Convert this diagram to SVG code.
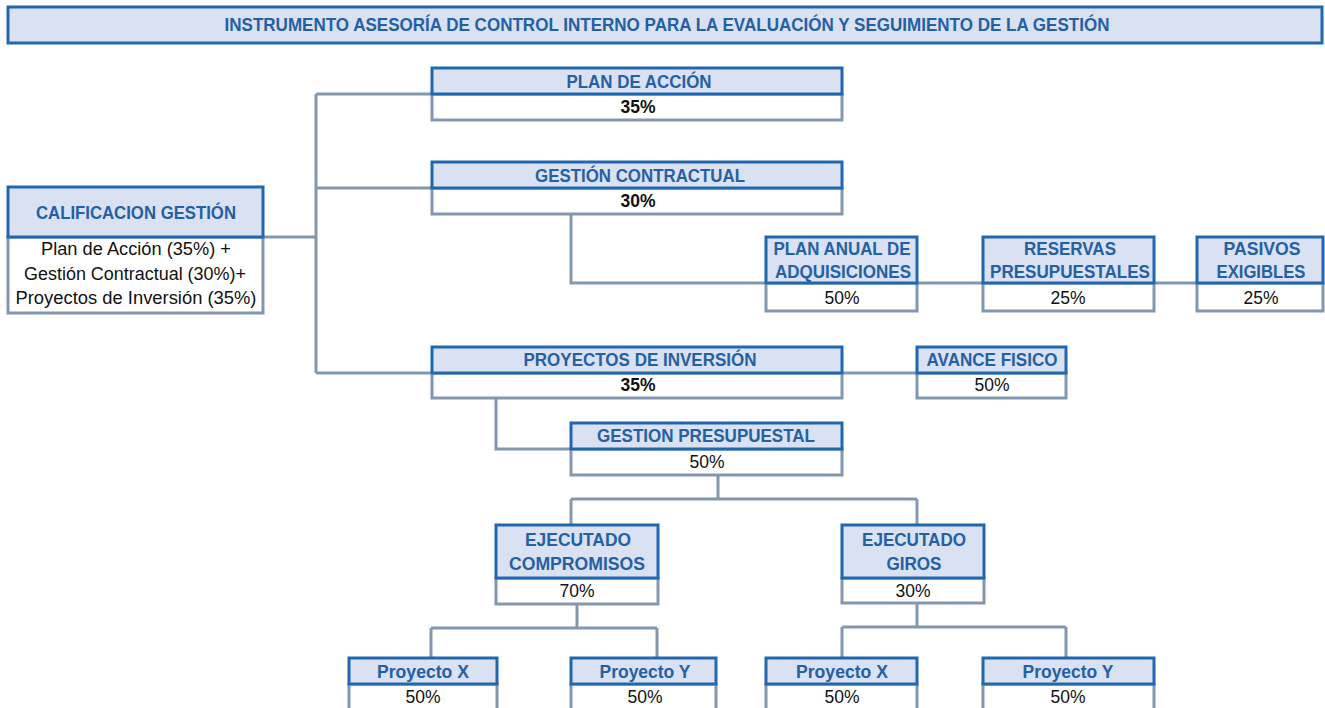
<svg xmlns="http://www.w3.org/2000/svg" width="1325" height="708" viewBox="0 0 1325 708">
<style>
.hdr{fill:#D9E1F2;stroke:#1F68B0;stroke-width:3}
.val{fill:#FFFFFF;stroke:#8497B0;stroke-width:3}
.ln{fill:none;stroke:#8497B0;stroke-width:3}
.lab{font-family:"Liberation Sans",Arial,sans-serif;font-weight:bold;font-size:18.5px;fill:#2460A4;text-anchor:middle}
.ttl{font-size:19px}
.num{font-family:"Liberation Sans",Arial,sans-serif;font-size:17.5px;fill:#111111;text-anchor:middle}
.numb{font-family:"Liberation Sans",Arial,sans-serif;font-size:17.5px;font-weight:bold;fill:#111111;text-anchor:middle}
</style>
<rect width="1325" height="708" fill="#FFFFFF"/>
<g id="title">
<rect class="hdr" x="8" y="7" width="1314" height="36"/>
<text class="lab ttl" x="667" y="31" textLength="885" lengthAdjust="spacingAndGlyphs">INSTRUMENTO ASESORÍA DE CONTROL INTERNO PARA LA EVALUACIÓN Y SEGUIMIENTO DE LA GESTIÓN</text>
</g>
<g id="connectors">
<path class="ln" d="M263 237 H316 M316 94 V373 M316 94 H432 M316 188 H432 M316 373 H432"/>
<path class="ln" d="M571 214 V283 H1197"/>
<path class="ln" d="M842 373 H917"/>
<path class="ln" d="M496 398 V449 H571"/>
<path class="ln" d="M718 475 V499 M571 499 H917 M571 499 V525 M917 499 V525"/>
<path class="ln" d="M577 604 V628 M431 628 H657 M431 628 V658 M657 628 V658"/>
<path class="ln" d="M917 603 V627 M842 627 H1066 M842 627 V658 M1066 627 V658"/>
</g>
<g id="calificacion">
<rect class="val" x="8" y="237" width="255" height="76"/>
<rect class="hdr" x="8" y="187" width="255" height="50"/>
<text class="lab" x="136" y="219" textLength="200" lengthAdjust="spacingAndGlyphs">CALIFICACION GESTIÓN</text>
<text class="num" x="136" y="255" textLength="190" lengthAdjust="spacingAndGlyphs">Plan de Acción (35%) +</text>
<text class="num" x="135" y="280" textLength="222" lengthAdjust="spacingAndGlyphs">Gestión Contractual (30%)+</text>
<text class="num" x="136" y="304" textLength="241" lengthAdjust="spacingAndGlyphs">Proyectos de Inversión (35%)</text>
</g>
<g id="plan-accion">
<rect class="val" x="432" y="94" width="410" height="26"/>
<rect class="hdr" x="432" y="68" width="410" height="26"/>
<text class="lab" x="639" y="88" textLength="145" lengthAdjust="spacingAndGlyphs">PLAN DE ACCIÓN</text>
<text class="numb" x="638" y="113">35%</text>
</g>
<g id="gestion-contractual">
<rect class="val" x="432" y="188" width="410" height="26"/>
<rect class="hdr" x="432" y="162" width="410" height="26"/>
<text class="lab" x="640" y="182" textLength="210" lengthAdjust="spacingAndGlyphs">GESTIÓN CONTRACTUAL</text>
<text class="numb" x="638" y="207">30%</text>
</g>
<g id="plan-anual">
<rect class="val" x="766" y="283" width="151" height="28"/>
<rect class="hdr" x="766" y="237" width="151" height="46"/>
<text class="lab" x="842" y="255" textLength="137" lengthAdjust="spacingAndGlyphs">PLAN ANUAL DE</text>
<text class="lab" x="843" y="278" textLength="136" lengthAdjust="spacingAndGlyphs">ADQUISICIONES</text>
<text class="num" x="842" y="304">50%</text>
</g>
<g id="reservas">
<rect class="val" x="983" y="283" width="171" height="28"/>
<rect class="hdr" x="983" y="237" width="171" height="46"/>
<text class="lab" x="1070" y="255" textLength="92" lengthAdjust="spacingAndGlyphs">RESERVAS</text>
<text class="lab" x="1070" y="278" textLength="160" lengthAdjust="spacingAndGlyphs">PRESUPUESTALES</text>
<text class="num" x="1068" y="304">25%</text>
</g>
<g id="pasivos">
<rect class="val" x="1197" y="283" width="126" height="28"/>
<rect class="hdr" x="1197" y="237" width="126" height="46"/>
<text class="lab" x="1262" y="255" textLength="77" lengthAdjust="spacingAndGlyphs">PASIVOS</text>
<text class="lab" x="1261" y="278" textLength="89" lengthAdjust="spacingAndGlyphs">EXIGIBLES</text>
<text class="num" x="1261" y="304">25%</text>
</g>
<g id="proyectos-inversion">
<rect class="val" x="432" y="373" width="410" height="25"/>
<rect class="hdr" x="432" y="347" width="410" height="26"/>
<text class="lab" x="640" y="366" textLength="233" lengthAdjust="spacingAndGlyphs">PROYECTOS DE INVERSIÓN</text>
<text class="numb" x="638" y="391">35%</text>
</g>
<g id="avance-fisico">
<rect class="val" x="917" y="373" width="149" height="25"/>
<rect class="hdr" x="917" y="347" width="149" height="26"/>
<text class="lab" x="992" y="366" textLength="131" lengthAdjust="spacingAndGlyphs">AVANCE FISICO</text>
<text class="num" x="992" y="391">50%</text>
</g>
<g id="gestion-presupuestal">
<rect class="val" x="571" y="449" width="271" height="26"/>
<rect class="hdr" x="571" y="423" width="271" height="26"/>
<text class="lab" x="706" y="442" textLength="218" lengthAdjust="spacingAndGlyphs">GESTION PRESUPUESTAL</text>
<text class="num" x="707" y="468">50%</text>
</g>
<g id="ejecutado-compromisos">
<rect class="val" x="496" y="578" width="162" height="26"/>
<rect class="hdr" x="496" y="525" width="162" height="53"/>
<text class="lab" x="578" y="546" textLength="106" lengthAdjust="spacingAndGlyphs">EJECUTADO</text>
<text class="lab" x="577" y="570" textLength="136" lengthAdjust="spacingAndGlyphs">COMPROMISOS</text>
<text class="num" x="577" y="597">70%</text>
</g>
<g id="ejecutado-giros">
<rect class="val" x="842" y="578" width="142" height="25"/>
<rect class="hdr" x="842" y="525" width="142" height="53"/>
<text class="lab" x="914" y="546" textLength="104" lengthAdjust="spacingAndGlyphs">EJECUTADO</text>
<text class="lab" x="914" y="570" textLength="55" lengthAdjust="spacingAndGlyphs">GIROS</text>
<text class="num" x="913" y="597">30%</text>
</g>
<g id="proyecto-x-1">
<rect class="val" x="349" y="684" width="148" height="28"/>
<rect class="hdr" x="349" y="658" width="148" height="26"/>
<text class="lab" x="423" y="678" textLength="92" lengthAdjust="spacingAndGlyphs">Proyecto X</text>
<text class="num" x="423" y="703">50%</text>
</g>
<g id="proyecto-y-1">
<rect class="val" x="571" y="684" width="145" height="28"/>
<rect class="hdr" x="571" y="658" width="145" height="26"/>
<text class="lab" x="645" y="678" textLength="91" lengthAdjust="spacingAndGlyphs">Proyecto Y</text>
<text class="num" x="645" y="703">50%</text>
</g>
<g id="proyecto-x-2">
<rect class="val" x="766" y="684" width="151" height="28"/>
<rect class="hdr" x="766" y="658" width="151" height="26"/>
<text class="lab" x="842" y="678" textLength="92" lengthAdjust="spacingAndGlyphs">Proyecto X</text>
<text class="num" x="842" y="703">50%</text>
</g>
<g id="proyecto-y-2">
<rect class="val" x="983" y="684" width="171" height="28"/>
<rect class="hdr" x="983" y="658" width="171" height="26"/>
<text class="lab" x="1068" y="678" textLength="91" lengthAdjust="spacingAndGlyphs">Proyecto Y</text>
<text class="num" x="1068" y="703">50%</text>
</g>
</svg>
